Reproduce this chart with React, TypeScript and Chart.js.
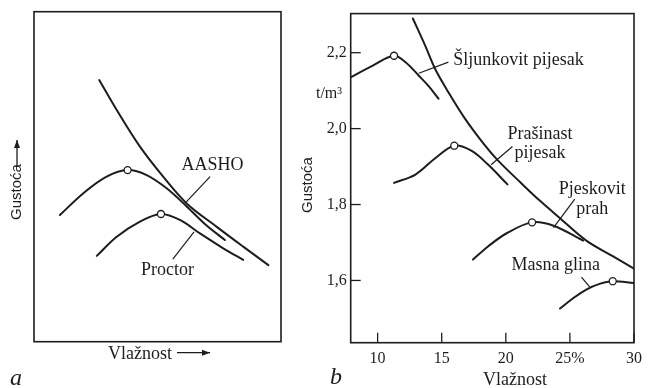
import React, { useEffect, useRef } from 'react';
import { Chart, registerables } from 'chart.js';

Chart.register(...registerables);

const INK = '#1d1d1d';
const SERIF = '"Liberation Serif", "DejaVu Serif", serif';
const SANS = '"Liberation Sans", "DejaVu Sans", sans-serif';

// ---------- Panel a (schematic, relative units 0-100) ----------
const A_ZAV_X = [26.4, 33.5, 42.9, 52.3, 61.8, 74.0, 84.7, 94.9];
const A_ZAV_Y = [79.3, 70.2, 59.1, 50.0, 41.9, 34.8, 28.8, 23.2];
const A_AASHO_X = [10.5, 20.0, 29.4, 37.9, 45.6, 53.7, 61.8, 69.9, 77.3];
const A_AASHO_Y = [38.4, 45.0, 50.0, 52.0, 50.5, 46.5, 41.0, 35.2, 30.8];
const A_PROCTOR_X = [25.4, 33.5, 42.9, 51.4, 59.1, 67.2, 76.6, 84.7];
const A_PROCTOR_Y = [26.0, 31.8, 36.4, 38.7, 36.9, 32.8, 28.3, 24.8];
const A_PEAK_X = [37.9, 51.4];
const A_PEAK_Y = [52.0, 38.7];
const A_LEADERS = [
  { x: [71.3, 61.1], y: [50.0, 41.9] },
  { x: [64.8, 56.2], y: [33.3, 25.0] },
];
const A_LABELS = [
  { text: 'AASHO', x: 72.3, y: 53.5, align: 'center' },
  { text: 'Proctor', x: 54.0, y: 21.7, align: 'center' },
];

// ---------- Panel b ----------
const B_X_TICKS = [10, 15, 20, 25, 30];
const B_X_TICK_LABELS = ['10', '15', '20', '25%', '30'];
const B_Y_TICKS = [1.6, 1.8, 2.0, 2.2];
const B_Y_TICK_LABELS = ['1,6', '1,8', '2,0', '2,2'];

const B_ZAV_X = [12.75, 13.72, 14.49, 15.52, 16.8, 18.34, 19.36, 21.15, 22.69, 24.23, 26.28, 28.34, 30.0];
const B_ZAV_Y = [2.29, 2.218, 2.157, 2.096, 2.027, 1.957, 1.917, 1.858, 1.809, 1.764, 1.705, 1.664, 1.631];
const B_SLJ_X = [7.88, 9.62, 11.28, 12.18, 13.2, 13.98, 14.75];
const B_SLJ_Y = [2.135, 2.166, 2.192, 2.175, 2.14, 2.112, 2.079];
const B_PRA_X = [11.28, 12.95, 14.49, 15.98, 17.31, 18.59, 20.13];
const B_PRA_Y = [1.857, 1.879, 1.922, 1.955, 1.942, 1.906, 1.853];
const B_PJE_X = [17.44, 18.59, 20.1, 22.05, 23.72, 26.03];
const B_PJE_Y = [1.655, 1.689, 1.725, 1.753, 1.744, 1.705];
const B_MAS_X = [24.23, 25.25, 26.28, 27.31, 28.34, 30.0];
const B_MAS_Y = [1.526, 1.553, 1.576, 1.591, 1.598, 1.593];
const B_PEAK_X = [11.28, 15.98, 22.05, 28.34];
const B_PEAK_Y = [2.192, 1.955, 1.753, 1.598];
const B_LEADERS = [
  { x: [15.52, 13.21], y: [2.175, 2.146] },
  { x: [20.52, 18.85], y: [1.953, 1.905] },
  { x: [25.38, 23.72], y: [1.814, 1.739] },
  { x: [25.9, 26.54], y: [1.609, 1.583] },
];
const B_LABELS = [
  { text: 'Šljunkovit pijesak', x: 15.9, y: 2.18, align: 'left' },
  { text: 'Prašinast', x: 22.67, y: 1.984, align: 'center' },
  { text: 'pijesak', x: 22.67, y: 1.934, align: 'center' },
  { text: 'Pjeskovit', x: 26.75, y: 1.84, align: 'center' },
  { text: 'prah', x: 26.75, y: 1.788, align: 'center' },
  { text: 'Masna glina', x: 23.9, y: 1.639, align: 'center' },
];

const pts = (xs: number[], ys: number[]) => xs.map((x, i) => ({ x, y: ys[i] }));

const curve = (xs: number[], ys: number[]) => ({
  data: pts(xs, ys),
  showLine: true,
  borderColor: INK,
  borderWidth: 2,
  pointRadius: 0,
  tension: 0.35,
  borderCapStyle: 'round' as const,
});
const leader = (l: { x: number[]; y: number[] }) => ({
  data: pts(l.x, l.y),
  showLine: true,
  borderColor: INK,
  borderWidth: 1.2,
  pointRadius: 0,
  tension: 0,
});
const peaks = (xs: number[], ys: number[]) => ({
  data: pts(xs, ys),
  showLine: false,
  pointRadius: 3.5,
  pointBackgroundColor: '#ffffff',
  pointBorderColor: INK,
  pointBorderWidth: 1.3,
});

function arrow(ctx: CanvasRenderingContext2D, x1: number, y1: number, x2: number, y2: number) {
  ctx.beginPath();
  ctx.moveTo(x1, y1);
  ctx.lineTo(x2, y2);
  ctx.lineWidth = 1.3;
  ctx.stroke();
  const ang = Math.atan2(y2 - y1, x2 - x1);
  const L = 8, W = 3;
  ctx.beginPath();
  ctx.moveTo(x2, y2);
  ctx.lineTo(x2 - L * Math.cos(ang) + W * Math.sin(ang), y2 - L * Math.sin(ang) - W * Math.cos(ang));
  ctx.lineTo(x2 - L * Math.cos(ang) - W * Math.sin(ang), y2 - L * Math.sin(ang) + W * Math.cos(ang));
  ctx.closePath();
  ctx.fill();
}

function drawLabels(chart: any, labels: any[]) {
  const { ctx, scales } = chart;
  ctx.font = `18px ${SERIF}`;
  ctx.textBaseline = 'middle';
  labels.forEach((l) => {
    ctx.textAlign = l.align;
    ctx.fillText(l.text, scales.x.getPixelForValue(l.x), scales.y.getPixelForValue(l.y));
  });
}

const panelAPlugin = {
  id: 'panelA',
  afterDraw(chart: any) {
    const { ctx, chartArea: ca } = chart;
    ctx.save();
    ctx.strokeStyle = INK;
    ctx.fillStyle = INK;
    ctx.lineWidth = 1.6;
    ctx.strokeRect(ca.left, ca.top, ca.right - ca.left, ca.bottom - ca.top);
    drawLabels(chart, A_LABELS);
    ctx.save();
    ctx.translate(17, 220);
    ctx.rotate(-Math.PI / 2);
    ctx.font = `15px ${SANS}`;
    ctx.textAlign = 'left';
    ctx.textBaseline = 'middle';
    ctx.fillText('Gustoća', 0, 0);
    ctx.restore();
    arrow(ctx, 17, 167, 17, 140);
    ctx.font = `18px ${SERIF}`;
    ctx.textAlign = 'left';
    ctx.textBaseline = 'alphabetic';
    ctx.fillText('Vlažnost', 108, 358.5);
    arrow(ctx, 177, 352.7, 210, 352.7);
    ctx.font = `italic 24px ${SERIF}`;
    ctx.fillText('a', 10, 385);
    ctx.restore();
  },
};

const panelBPlugin = {
  id: 'panelB',
  afterDraw(chart: any) {
    const { ctx, chartArea: ca, scales } = chart;
    ctx.save();
    ctx.strokeStyle = INK;
    ctx.fillStyle = INK;
    ctx.lineWidth = 1.6;
    ctx.strokeRect(ca.left, ca.top, ca.right - ca.left, ca.bottom - ca.top);
    ctx.lineWidth = 1.3;
    B_X_TICKS.forEach((v) => {
      const px = scales.x.getPixelForValue(v);
      ctx.beginPath();
      ctx.moveTo(px, ca.bottom);
      ctx.lineTo(px, ca.bottom - 10);
      ctx.stroke();
    });
    B_Y_TICKS.forEach((v) => {
      const py = scales.y.getPixelForValue(v);
      ctx.beginPath();
      ctx.moveTo(ca.left, py);
      ctx.lineTo(ca.left + 10, py);
      ctx.stroke();
    });
    drawLabels(chart, B_LABELS);
    ctx.save();
    ctx.translate(8, 185);
    ctx.rotate(-Math.PI / 2);
    ctx.font = `15px ${SANS}`;
    ctx.textAlign = 'center';
    ctx.textBaseline = 'middle';
    ctx.fillText('Gustoća', 0, 0);
    ctx.restore();
    ctx.font = `16px ${SERIF}`;
    ctx.textAlign = 'center';
    ctx.textBaseline = 'middle';
    ctx.fillText('t/m³', 29, 94);
    ctx.font = `18px ${SERIF}`;
    ctx.textBaseline = 'alphabetic';
    ctx.fillText('Vlažnost', 215, 385);
    ctx.textAlign = 'left';
    ctx.font = `italic 24px ${SERIF}`;
    ctx.fillText('b', 30, 384);
    ctx.restore();
  },
};

const common = {
  responsive: false,
  animation: false as const,
  events: [] as any[],
};

export default function App() {
  const aRef = useRef<HTMLCanvasElement>(null);
  const bRef = useRef<HTMLCanvasElement>(null);

  useEffect(() => {
    const chartA = new Chart(aRef.current as HTMLCanvasElement, {
      type: 'scatter',
      data: {
        datasets: [
          peaks(A_PEAK_X, A_PEAK_Y),
          curve(A_ZAV_X, A_ZAV_Y),
          curve(A_AASHO_X, A_AASHO_Y),
          curve(A_PROCTOR_X, A_PROCTOR_Y),
          ...A_LEADERS.map(leader),
        ] as any,
      },
      options: {
        ...common,
        layout: { padding: { left: 34, right: 19, top: 11.7, bottom: 46.3 } },
        scales: {
          x: { type: 'linear', min: 0, max: 100, display: false },
          y: { type: 'linear', min: 0, max: 100, display: false },
        },
        plugins: { legend: { display: false }, tooltip: { enabled: false } },
      },
      plugins: [panelAPlugin],
    });

    const chartB = new Chart(bRef.current as HTMLCanvasElement, {
      type: 'scatter',
      data: {
        datasets: [
          peaks(B_PEAK_X, B_PEAK_Y),
          curve(B_ZAV_X, B_ZAV_Y),
          curve(B_SLJ_X, B_SLJ_Y),
          curve(B_PRA_X, B_PRA_Y),
          curve(B_PJE_X, B_PJE_Y),
          curve(B_MAS_X, B_MAS_Y),
          ...B_LEADERS.map(leader),
        ] as any,
      },
      options: {
        ...common,
        layout: { padding: { left: 0, right: 9, top: 10.7, bottom: 0 } },
        scales: {
          x: {
            type: 'linear',
            min: 7.9,
            max: 30,
            afterBuildTicks: (s: any) => {
              s.ticks = B_X_TICKS.map((v) => ({ value: v }));
            },
            afterFit: (s: any) => {
              s.height = 45.3;
            },
            grid: { display: false, drawTicks: false },
            border: { display: false },
            ticks: {
              padding: 6,
              color: INK,
              font: { family: SERIF, size: 16 },
              maxRotation: 0,
              autoSkip: false,
              callback: (_v: any, i: number) => B_X_TICK_LABELS[i],
            },
          },
          y: {
            type: 'linear',
            min: 1.436,
            max: 2.303,
            afterBuildTicks: (s: any) => {
              s.ticks = B_Y_TICKS.map((v) => ({ value: v }));
            },
            afterFit: (s: any) => {
              s.width = 50.7;
            },
            grid: { display: false, drawTicks: false },
            border: { display: false },
            ticks: {
              padding: 4,
              color: INK,
              font: { family: SERIF, size: 16 },
              autoSkip: false,
              callback: (_v: any, i: number) => B_Y_TICK_LABELS[i],
            },
          },
        },
        plugins: { legend: { display: false }, tooltip: { enabled: false } },
      },
      plugins: [panelBPlugin],
    });

    return () => {
      chartA.destroy();
      chartB.destroy();
    };
  }, []);

  return (
    <div style={{ position: 'fixed', left: 0, top: 0, width: 648, height: 388, background: '#ffffff' }}>
      <canvas ref={aRef} width={300} height={388} style={{ position: 'absolute', left: 0, top: 0 }} />
      <canvas ref={bRef} width={348} height={388} style={{ position: 'absolute', left: 300, top: 0 }} />
    </div>
  );
}
